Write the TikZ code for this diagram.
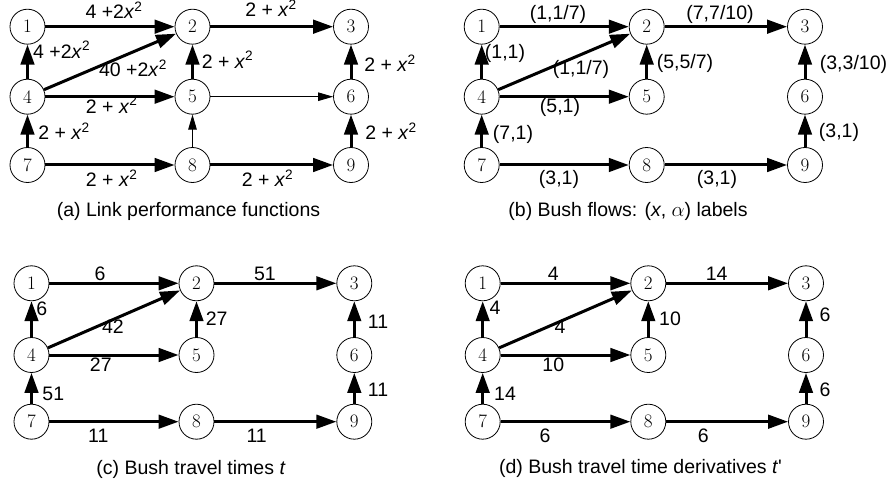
\documentclass[tikz,border=0pt]{standalone}
\usepackage{fontspec}
\usetikzlibrary{arrows.meta}
\newfontfamily\labfont{Liberation Sans}
\begin{document}
\begin{tikzpicture}[x=1pt,y=-1pt,
  nd/.style={circle, draw, line width=0.8pt, minimum size=35pt, inner sep=0pt, font=\fontsize{19}{21}\selectfont},
  thk/.style={line width=3pt, -{Triangle[length=20pt,width=13.5pt]}},
  thn/.style={line width=0.9pt, -{Triangle[length=15pt,width=8.5pt]}},
  lbl/.style={font={\labfont\fontsize{19.5}{22}\selectfont}, anchor=base, inner sep=0pt},
  captxt/.style={font={\labfont\fontsize{19.5}{22}\selectfont}, anchor=base, inner sep=0pt}]
\useasboundingbox (0,0) rectangle (887,484);
\foreach \p/\xa/\xb/\xc/\ya/\yb/\yc in {
  a/27.5/192.5/351/26.7/96.7/165,
  b/481.7/646.7/805/26.7/96.7/165,
  c/31.5/196.5/354.3/283.3/355/421.7,
  d/482.7/648.3/806/283.3/355/421.7}{
  \node[nd] (\p1) at (\xa,\ya) {1};
  \node[nd] (\p2) at (\xb,\ya) {2};
  \node[nd] (\p3) at (\xc,\ya) {3};
  \node[nd] (\p4) at (\xa,\yb) {4};
  \node[nd] (\p5) at (\xb,\yb) {5};
  \node[nd] (\p6) at (\xc,\yb) {6};
  \node[nd] (\p7) at (\xa,\yc) {7};
  \node[nd] (\p8) at (\xb,\yc) {8};
  \node[nd] (\p9) at (\xc,\yc) {9};
  \draw[thk] (\p1) -- (\p2);
  \draw[thk] (\p2) -- (\p3);
  \draw[thk] (\p4) -- (\p1);
  \draw[thk] (\p4) -- (\p2);
  \draw[thk] (\p4) -- (\p5);
  \draw[thk] (\p5) -- (\p2);
  \draw[thk] (\p6) -- (\p3);
  \draw[thk] (\p7) -- (\p4);
  \draw[thk] (\p7) -- (\p8);
  \draw[thk] (\p8) -- (\p9);
  \draw[thk] (\p9) -- (\p6);
}
\draw[thn] (a5) -- (a6);
\draw[thn] (a8) -- (a5);
% panel (a) labels
\newcommand\xsq{\textit{x}\textsuperscript{2}}
\node[lbl] (la12) at (114,19) {4 +2\xsq};
\node[lbl] (la23) at (271,17) {2 + \xsq};
\node[lbl] (la41) at (61.7,58.3) {4 +2\xsq};
\node[lbl] (la42) at (133,76.7) {40 +2\xsq};
\node[lbl] (la45) at (111.7,113.3) {2 + \xsq};
\node[lbl] (la52) at (227.5,68.3) {2 + \xsq};
\node[lbl] (la63) at (390,71.7) {2 + \xsq};
\node[lbl] (la74) at (64,140) {2 + \xsq};
\node[lbl] (la78) at (111.7,186.7) {2 + \xsq};
\node[lbl] (la89) at (267.5,186.7) {2 + \xsq};
\node[lbl] (la96) at (391,140) {2 + \xsq};
\node[captxt] (capa) at (188.5,216) {(a) Link performance functions};
% panel (b) labels
\node[lbl] (lb12) at (558,20) {(1,1/7)};
\node[lbl] (lb23) at (720,20) {(7,7/10)};
\node[lbl] (lb41) at (505,58.3) {(1,1)};
\node[lbl] (lb42) at (581,75) {(1,1/7)};
\node[lbl] (lb45) at (560,113) {(5,1)};
\node[lbl] (lb52) at (685,68.3) {(5,5/7)};
\node[lbl] (lb63) at (853.5,70) {(3,3/10)};
\node[lbl] (lb74) at (513,140) {(7,1)};
\node[lbl] (lb78) at (559,185) {(3,1)};
\node[lbl] (lb89) at (717,185) {(3,1)};
\node[lbl] (lb96) at (839,138) {(3,1)};
\node[captxt] (capb) at (628,216) {(b) Bush flows: (\textit{x}, $\alpha$) labels};
% panel (c) labels
\node[lbl] (lc12) at (100,280) {6};
\node[lbl] (lc23) at (265,280) {51};
\node[lbl] (lc41) at (41.7,315) {6};
\node[lbl] (lc42) at (113,333.3) {42};
\node[lbl] (lc45) at (100.8,371.7) {27};
\node[lbl] (lc52) at (216.7,325) {27};
\node[lbl] (lc63) at (378,328.3) {11};
\node[lbl] (lc74) at (53.3,400) {51};
\node[lbl] (lc78) at (98.3,442.7) {11};
\node[lbl] (lc89) at (256.7,442.7) {11};
\node[lbl] (lc96) at (378,396.7) {11};
\node[captxt] (capc) at (191,474) {(c) Bush travel times \textit{t}};
% panel (d) labels
\node[lbl] (ld12) at (553.3,280) {4};
\node[lbl] (ld23) at (716.7,280) {14};
\node[lbl] (ld41) at (495,314) {4};
\node[lbl] (ld42) at (560,333.3) {4};
\node[lbl] (ld45) at (553.3,371.7) {10};
\node[lbl] (ld52) at (670,325) {10};
\node[lbl] (ld63) at (825,321.7) {6};
\node[lbl] (ld74) at (505,400) {14};
\node[lbl] (ld78) at (545,442.7) {6};
\node[lbl] (ld89) at (703.3,442.7) {6};
\node[lbl] (ld96) at (825,396.7) {6};
\node[captxt] (capd) at (640.5,473) {(d) Bush travel time derivatives \textit{t}'};
\end{tikzpicture}
\end{document}
